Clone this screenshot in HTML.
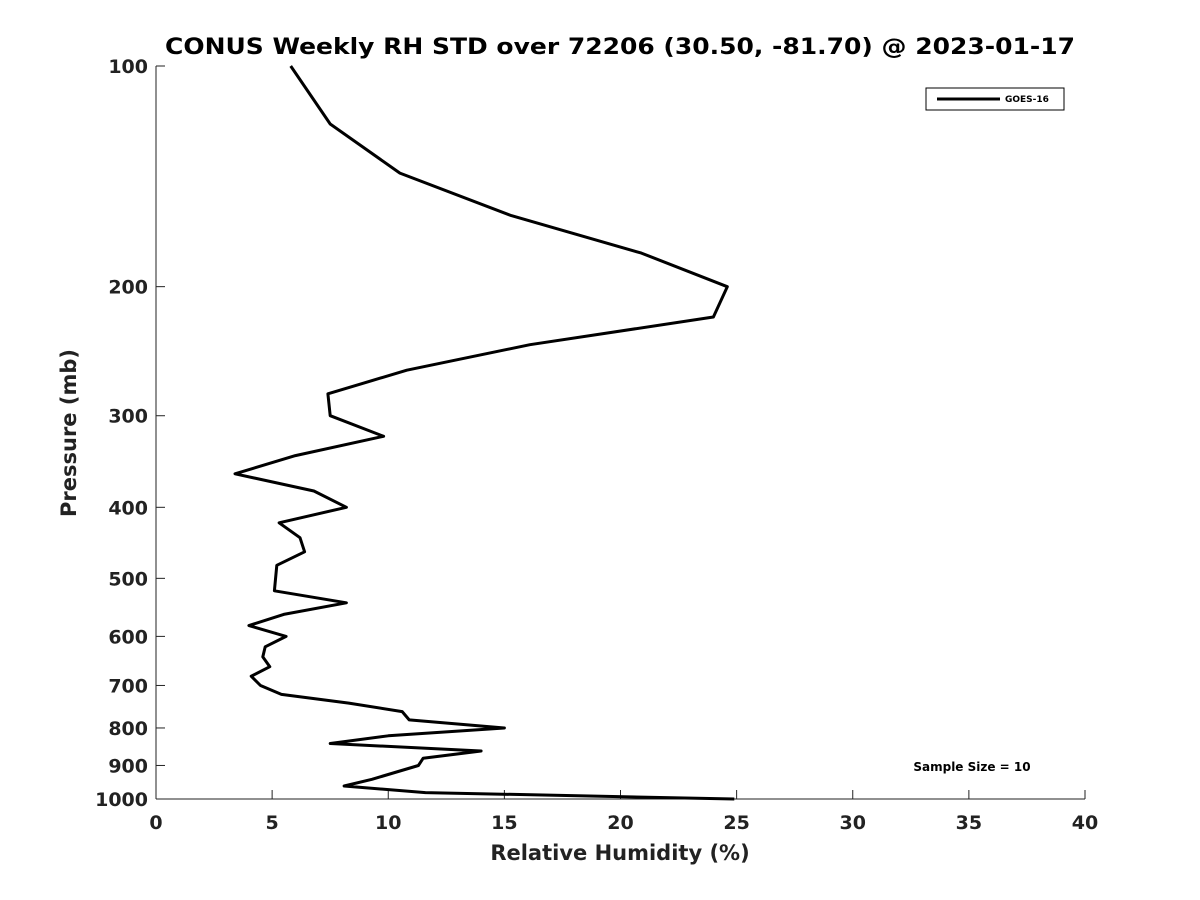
<!DOCTYPE html>
<html><head><meta charset="utf-8"><style>
body{margin:0;background:#fff;}
svg{display:block;font-family:"DejaVu Sans","Liberation Sans",sans-serif;}
</style></head><body>
<svg id="chart" width="1200" height="900">
<text x="620" y="54" text-anchor="middle" font-size="22" font-weight="bold" fill="#000" textLength="910" lengthAdjust="spacingAndGlyphs">CONUS Weekly RH STD over 72206 (30.50, -81.70) @ 2023-01-17</text>
<g id="axes"></g>
<path id="series" fill="none" stroke="#000" stroke-width="3" stroke-linejoin="round"></path>
<g>
<rect x="926" y="88" width="138" height="22" fill="#fff" stroke="#000" stroke-width="1"></rect>
<line x1="937" y1="99" x2="1000" y2="99" stroke="#000" stroke-width="3"></line>
<text x="1005" y="102" font-size="9" font-weight="bold">GOES-16</text>
</g>
<text x="972" y="771" text-anchor="middle" font-size="12" font-weight="bold">Sample Size = 10</text>
<text x="620" y="860" text-anchor="middle" font-size="21" font-weight="bold" fill="#222">Relative Humidity (%)</text>
<text transform="translate(76,433) rotate(-90)" text-anchor="middle" font-size="21" font-weight="bold" fill="#222">Pressure (mb)</text>
</svg>
<script>
const pressures=[100,120,140,160,180,200,220,240,260,280,300,320,340,360,380,400,420,440,460,480,520,540,560,580,600,620,640,660,680,700,720,740,760,780,800,820,840,860,880,900,940,960,980,1000];
const rhStd=[5.8,7.5,10.5,15.3,20.9,24.6,24.0,16.1,10.8,7.4,7.5,9.8,6.0,3.4,6.8,8.2,5.3,6.2,6.4,5.2,5.1,8.2,5.5,4.0,5.6,4.7,4.6,4.9,4.1,4.5,5.4,8.3,10.6,10.9,15.0,10.0,7.5,14.0,11.5,11.3,9.3,8.1,11.6,24.9];
const xTicks=[0,5,10,15,20,25,30,35,40];
const yTicks=[100,200,300,400,500,600,700,800,900,1000];
const X0=156,X1=1085,Y0=66,Y1=799;
const xs=v=>X0+(v-0)/(40-0)*(X1-X0);
const ys=p=>Y0+(Math.log10(p)-2)/(3-2)*(Y1-Y0);
const NS="http://www.w3.org/2000/svg";
const ax=document.getElementById('axes');
function mk(t,a){const e=document.createElementNS(NS,t);for(const k in a)e.setAttribute(k,a[k]);ax.appendChild(e);return e;}
let l=mk('line',{x1:X0,y1:Y0,x2:X0,y2:Y1,stroke:'#222','stroke-width':1});


l=mk('line',{x1:X0,y1:Y1,x2:X1,y2:Y1,stroke:'#222','stroke-width':1});


xTicks.forEach(v=>{
 const x=xs(v);
 let t=mk('line',{x1:x,y1:Y1,x2:x,y2:Y1-9,stroke:'#222'});
 
 
 let tx=mk('text',{x:x,y:Y1+30,'text-anchor':'middle','font-size':19,'font-weight':'bold',fill:'#222'});
 tx.textContent=v;
 
 
});
yTicks.forEach(p=>{
 const y=ys(p);
 let t=mk('line',{x1:X0,y1:y,x2:X0+9,y2:y,stroke:'#222'});
 
 
 let tx=mk('text',{x:X0-8,y:y+7,'text-anchor':'end','font-size':19,'font-weight':'bold',fill:'#222'});
 tx.textContent=p;
 
 
});
document.getElementById('series').setAttribute('d',pressures.map((p,i)=>(i?'L':'M')+xs(rhStd[i]).toFixed(1)+','+ys(p).toFixed(1)).join(' '));
</script>
</body></html>
